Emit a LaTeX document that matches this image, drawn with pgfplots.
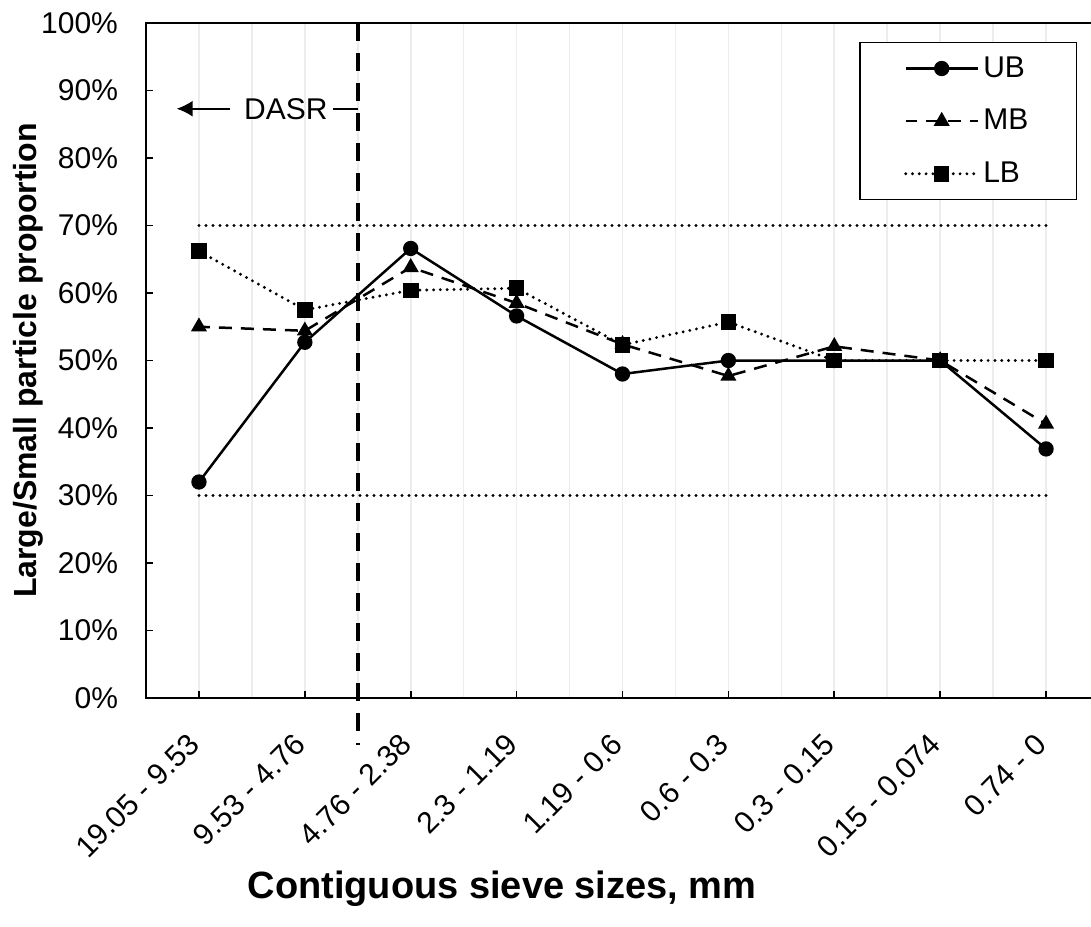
\documentclass[border=0pt]{standalone}
\usepackage{pgfplots}
\usepackage{pgfplotstable}
\pgfplotsset{compat=1.18}
\usepackage{fontspec}
\setmainfont{Liberation Sans}
\usetikzlibrary{arrows.meta}

% Large/small particle proportion (%) for each pair of contiguous sieves
\pgfplotstableread{
x  UB    MB    LB
0  32.0  55.0  66.2
1  52.7  54.4  57.5
2  66.6  63.8  60.4
3  56.6  58.5  60.7
4  48.0  52.4  52.3
5  50.0  47.7  55.7
6  50.0  52.1  50.0
7  50.0  50.0  50.0
8  36.9  40.6  50.0
}\sieve

\begin{document}
\begin{tikzpicture}
\begin{axis}[
  scale only axis,
  width=476.5pt, height=337.5pt,
  xmin=-0.5, xmax=8.5, ymin=0, ymax=100,
  clip=false,
  axis line style={line width=0.8pt},
  tick align=inside,
  xtick pos=bottom, ytick pos=left,
  major tick length=3.5pt,
  minor tick length=0pt,
  tick style={black, line width=0.8pt},
  xtick={0,...,8},
  minor xtick={-0.5,0.5,...,8.5},
  xticklabels={19.05 - 9.53, 9.53 - 4.76, 4.76 - 2.38, 2.3 - 1.19, 1.19 - 0.6, 0.6 - 0.3, 0.3 - 0.15, 0.15 - 0.074, 0.74 - 0},
  xmajorgrids, xminorgrids,
  major grid style={draw=gray!14, line width=0.8pt},
  minor grid style={draw=gray!14, line width=0.8pt},
  ytick={0,10,...,100},
  /pgf/number format/assume math mode=true,
  yticklabel={\pgfmathprintnumber{\tick}\%},
  yticklabel style={font=\fontsize{15}{18}\selectfont, xshift=-10.5pt},
  xticklabel style={rotate=45, anchor=east, font=\fontsize{15}{18}\selectfont},
  xticklabel shift=18pt,
  xlabel={Contiguous sieve sizes, mm},
  ylabel={Large/Small particle proportion},
  xlabel style={font=\bfseries\fontsize{19}{22}\selectfont,
    at={(axis description cs:0.3736,-0.282)}, anchor=center},
  ylabel style={font=\bfseries\fontsize{16}{19}\selectfont,
    at={(axis description cs:-0.1238,0.5)}, anchor=center},
  legend style={at={(axis description cs:0.977,0.972)}, anchor=north east,
    draw=black, line width=0.8pt, font=\fontsize{15}{18}\selectfont,
    inner xsep=22pt, inner ysep=5pt, row sep=10.5pt},
  legend cell align=left,
  legend image code/.code={
    \draw[mark repeat=2, mark phase=2, #1] plot coordinates {(0pt,0pt) (18pt,0pt) (36pt,0pt)};
  },
]
% reference limits at 30% and 70%
\addplot[black, line width=1.6pt, line cap=round, dash pattern=on 0pt off 3.5pt, forget plot]
  coordinates {(0,70) (8,70)};
\addplot[black, line width=1.6pt, line cap=round, dash pattern=on 0pt off 3.5pt, forget plot]
  coordinates {(0,30) (8,30)};
% boundary of the dominant aggregate size range
\addplot[black, line width=2pt, dash pattern=on 9pt off 6pt, forget plot]
  coordinates {(1.5,100) (1.5,-7)};

\addplot[black, line width=1.25pt, mark=*, mark size=3.2pt, mark options={solid, fill=black}]
  table[x=x, y=UB] {\sieve};
\addlegendentry{UB}
\addplot[black, line width=1.25pt, dash pattern=on 6.5pt off 4.5pt, dash phase=1pt, mark=triangle*, mark size=3.4pt, mark options={solid, fill=black}]
  table[x=x, y=MB] {\sieve};
\addlegendentry{MB}
\addplot[black, line width=1.6pt, line cap=round, dash pattern=on 0pt off 3.4pt, mark=square*, mark size=3.1pt, mark options={solid, fill=black}]
  table[x=x, y=LB] {\sieve};
\addlegendentry{LB}

% DASR annotation
\draw[line width=0.8pt, -{Latex[length=8pt, width=8pt]}] (axis cs:0.29,87.3) -- (axis cs:-0.21,87.3);
\node[font=\fontsize{15}{18}\selectfont] at (axis cs:0.82,87.3) {DASR};
\draw[line width=0.8pt] (axis cs:1.27,87.3) -- (axis cs:1.5,87.3);

\coordinate (ll) at (rel axis cs:0,0);
\coordinate (ur) at (rel axis cs:1,1);
\end{axis}
\pgfresetboundingbox
\path[use as bounding box] ([xshift=-73pt,yshift=-114pt]ll) rectangle ([xshift=-4pt,yshift=11.5pt]ur);
\end{tikzpicture}
\end{document}
